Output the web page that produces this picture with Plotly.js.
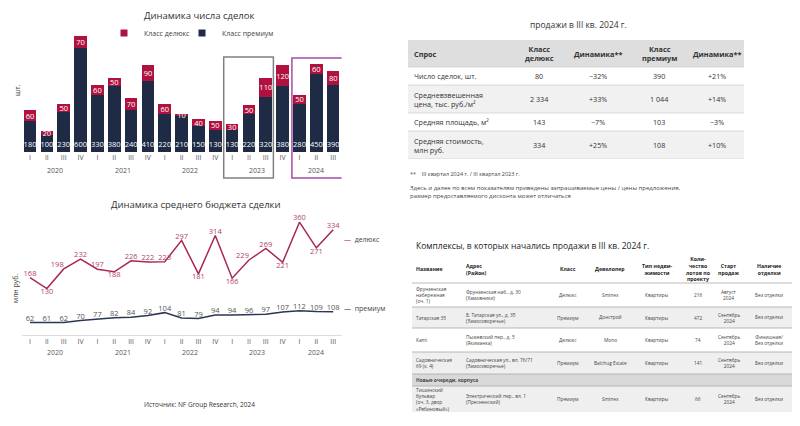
<!DOCTYPE html>
<html><head><meta charset="utf-8">
<script src="https://cdn.plot.ly/plotly-3.0.1.min.js"></script>
<style>html,body{margin:0;padding:0;background:#fff}</style>
</head><body><div id="chart" style="width:800px;height:426px"></div>
<script>
// ---------- data ----------
const quarters = ["I","II","III","IV","I","II","III","IV","I","II","III","IV","I","II","III","IV","I","II","III"];
const years = ["2020","2021","2022","2023","2024"];
const quartersPerYear = [4,4,4,4,3];
const dealsPremium = [180,100,230,600,330,380,240,410,220,210,150,130,130,220,320,380,280,450,390];
const dealsDeluxe  = [60,20,50,70,60,50,70,90,60,10,40,50,30,50,110,120,50,60,80];
const budgetDeluxe  = [168,130,198,232,197,188,226,222,223,297,181,314,166,229,269,221,360,271,334];
const budgetPremium = [62,61,62,70,77,82,84,92,104,81,79,94,94,96,97,107,112,109,108];

const t1Header = ["Спрос","Класс<br>делюкс","Динамика**","Класс<br>премиум","Динамика**"];
const t1Metric = ["Число сделок, шт.","Средневзвешенная<br>цена, тыс. руб./м²","Средняя площадь, м²","Средняя стоимость,<br>млн руб."];
const t1DeluxeVal = ["80","2 334","143","334"];
const t1DeluxeDyn = ["−32%","+33%","−7%","+25%"];
const t1PremVal = ["390","1 044","103","108"];
const t1PremDyn = ["+21%","+14%","−3%","+10%"];

const t2Header = ["Название","Адрес<br>(Район)","Класс","Девелопер","Тип недви-<br>жимости","Коли-<br>чество<br>лотов по<br>проекту","Старт<br>продаж","Наличие<br>отделки"];
const t2Name = ["Фрунзенская<br>набережная<br>(оч. 1)","Татарская 35","Kami","Садовническая<br>69 (к. 4)","<b>Новые очереди, корпуса</b>","Тишинский<br>бульвар<br>(оч. 3, двор<br>«Рябиновый»)"];
const t2Address = ["Фрунзенская наб., д. 30<br>(Хамовники)","Б. Татарская ул., д. 35<br>(Замоскворечье)","Пыжевский пер., д. 5<br>(Якиманка)","Садовническая ул., вл. 76/71<br>(Замоскворечье)","","Электрический пер., вл. 1<br>(Пресненский)"];
const t2Class = ["Делюкс","Премиум","Делюкс","Премиум","","Премиум"];
const t2Developer = ["Sminex","Донстрой","Mono","Balchug Estate","","Sminex"];
const t2Type = ["Квартиры","Квартиры","Квартиры","Квартиры","","Квартиры"];
const t2Lots = ["216","472","74","141","","66"];
const t2Start = ["Август<br>2024","Сентябрь<br>2024","Сентябрь<br>2024","Сентябрь<br>2024","","Сентябрь<br>2024"];
const t2Finish = ["Без отделки","Без отделки","Финишная/<br>Без отделки","Без отделки","","Без отделки"];

// ---------- styles ----------
const FONT = "Open Sans, Noto Sans, sans-serif";
const RED = "#b01240", NAVY = "#1f2a44";
const LRED = "#a8284f", LRED_TXT = "#b24268", LNAVY = "#2b3653";
const W = 800, H = 426;
const px = p => p / W, py = p => 1 - p / H;

const xIdx = quarters.map((_, i) => i);
let yearCenters = [], s = 0;
quartersPerYear.forEach(n => { yearCenters.push(s + (n - 1) / 2); s += n; });

const deluxePos = ["top center","bottom center","top left","top center","top center","bottom center","top center","top center","top center","top center","bottom center","top center","bottom center","top left","top center","bottom center","top center","bottom center","top center"];

const traces = [
  {type:"scatter", mode:"markers", x:[null], y:[null], name:"Класс делюкс", legend:"legend", marker:{symbol:"square", size:7, color:RED}, hoverinfo:"skip"},
  {type:"scatter", mode:"markers", x:[null], y:[null], name:"Класс премиум", legend:"legend2", marker:{symbol:"square", size:7, color:NAVY}, hoverinfo:"skip"},
  {type:"bar", x:xIdx, y:dealsPremium, name:"Класс премиум", marker:{color:NAVY}, showlegend:false,
   text:dealsPremium.map(String), textposition:"inside", insidetextanchor:"start", textangle:0, constraintext:"none",
   insidetextfont:{color:"#fff", size:7.5, family:FONT}, hoverinfo:"skip"},
  {type:"bar", x:xIdx, y:dealsDeluxe, name:"Класс делюкс", marker:{color:RED}, showlegend:false,
   text:dealsDeluxe.map(String), textposition:"inside", insidetextanchor:"middle", textangle:0, constraintext:"none",
   insidetextfont:{color:"#fff", size:7.5, family:FONT}, hoverinfo:"skip"},
  {type:"scatter", mode:"lines+text", x:xIdx, y:budgetDeluxe, xaxis:"x2", yaxis:"y2", name:"делюкс", showlegend:false,
   line:{color:LRED, width:1.5}, text:budgetDeluxe.map(String), textposition:deluxePos,
   textfont:{size:7.5, color:LRED_TXT, family:FONT}, cliponaxis:false, hoverinfo:"skip"},
  {type:"scatter", mode:"lines+text", x:xIdx, y:budgetPremium, xaxis:"x2", yaxis:"y3", name:"премиум", showlegend:false,
   line:{color:LNAVY, width:1.5}, text:budgetPremium.map(String), textposition:"top center",
   textfont:{size:7.5, color:"#555", family:FONT}, cliponaxis:false, hoverinfo:"skip"}
];

// ---------- annotations & shapes ----------
const ann = [];
const shapes = [];
const txt = (text, x, y, opt = {}) => Object.assign({text, x, y, xref:"paper", yref:"paper", showarrow:false,
  xanchor:"center", yanchor:"middle", font:{family:FONT, size:7, color:"#444"}}, opt);

ann.push(txt("Динамика числа сделок", px(199), py(16), {font:{family:FONT, size:9.5, color:"#333"}}));
ann.push(txt("Динамика среднего бюджета сделки", px(196), py(205), {font:{family:FONT, size:9.5, color:"#333"}}));
ann.push(txt("шт.", px(18), py(90), {textangle:-90, font:{family:FONT, size:7, color:"#444"}}));
ann.push(txt("млн руб.", px(15), py(289), {textangle:-90, font:{family:FONT, size:7, color:"#444"}}));
years.forEach((yr, i) => {
  ann.push(txt(yr, yearCenters[i], py(170), {xref:"x", font:{family:FONT, size:7, color:"#555"}}));
  ann.push(txt(yr, yearCenters[i], py(352), {xref:"x2", font:{family:FONT, size:7, color:"#555"}}));
});
ann.push(txt("<span style='color:" + LRED + "'>—</span>  делюкс", px(342), py(239), {xanchor:"left", font:{family:FONT, size:7, color:"#444"}}));
ann.push(txt("<span style='color:" + LNAVY + "'>—</span>  премиум", px(342), py(308), {xanchor:"left", font:{family:FONT, size:7, color:"#444"}}));
ann.push(txt("Источник: NF Group Research, 2024", px(199), py(404), {font:{family:FONT, size:6.5, color:"#333"}}));
ann.push(txt("продажи в III кв. 2024 г.", px(578), py(24), {font:{family:FONT, size:8.5, color:"#333"}}));
ann.push(txt("**    III квартал 2024 г. / III квартал 2023 г.", px(408), py(174), {xanchor:"left", font:{family:FONT, size:5.5, color:"#444"}}));
ann.push(txt("Здесь и далее по всем показателям приведены запрашиваемые цены / цены предложения,<br>размер предоставляемого дисконта может отличаться", px(408), py(192), {xanchor:"left", align:"left", font:{family:FONT, size:6, color:"#444"}}));
ann.push(txt("Комплексы, в которых начались продажи в III кв. 2024 г.", px(414), py(245), {xanchor:"left", font:{family:FONT, size:8.5, color:"#222"}}));

shapes.push(
  {type:"rect", xref:"x", yref:"paper", x0:12 - 0.5, x1:14 + 0.45, y0:py(178), y1:py(57), line:{color:"#808080", width:1.5}},
  {type:"rect", xref:"x", yref:"paper", x0:16 - 0.45, x1:18 + 0.65, y0:py(178), y1:py(58), line:{color:"#a64ca6", width:1.5}}
);

const xCommon = {domain:[px(21.6), px(341.6)], range:[-0.5, 18.5], tickmode:"array", tickvals:xIdx, ticktext:quarters,
  showgrid:false, zeroline:false, ticks:"", tickfont:{family:FONT, size:7, color:"#555"}, fixedrange:true};

const layout = {
  width:W, height:H, margin:{l:0, r:0, t:0, b:0}, paper_bgcolor:"#fff", plot_bgcolor:"rgba(0,0,0,0)",
  font:{family:FONT, size:7, color:"#444"},
  barmode:"stack", bargap:0.25,
  showlegend:true,
  legend:{orientation:"h", x:px(104), xanchor:"left", y:py(33), yanchor:"middle", font:{family:FONT, size:7, color:"#444"},
    bgcolor:"rgba(0,0,0,0)", itemwidth:30, traceorder:"normal"},
  legend2:{orientation:"h", x:px(182), xanchor:"left", y:py(33), yanchor:"middle", font:{family:FONT, size:7, color:"#444"},
    bgcolor:"rgba(0,0,0,0)", itemwidth:30, traceorder:"normal"},
  xaxis:Object.assign({}, xCommon, {anchor:"y", showline:false}),
  yaxis:{domain:[py(152), py(30)], range:[0, 705], visible:false, fixedrange:true},
  xaxis2:Object.assign({}, xCommon, {anchor:"y2", showline:true, linecolor:"#dddddd", linewidth:1}),
  yaxis2:{domain:[py(335), py(215)], range:[-31, 385], visible:false, fixedrange:true},
  yaxis3:{overlaying:"y2", anchor:"x2", range:[8.5, 521], visible:false, fixedrange:true},
  annotations:ann, shapes:shapes
};

// ---------- tables drawn on their own hidden axes ----------
function addTable(t) {
  const totalW = t.colWidths.reduce((a, b) => a + b, 0);
  const totalH = t.rowHeights.reduce((a, b) => a + b, 0);
  layout["xaxis" + t.xn] = {domain:[px(t.left), px(t.left + totalW)], range:[0, totalW], visible:false, anchor:"y" + t.yn, fixedrange:true};
  layout["yaxis" + t.yn] = {domain:[py(t.top + totalH), py(t.top)], range:[totalH, 0], visible:false, anchor:"x" + t.xn, fixedrange:true};
  const xr = "x" + t.xn, yr = "y" + t.yn;
  traces.push({type:"scatter", mode:"markers", x:[null], y:[null], xaxis:xr, yaxis:yr, showlegend:false, hoverinfo:"skip"});
  const rows = [t.header].concat(t.columns[0].map((_, r) => t.columns.map(col => col[r])));
  let y = 0;
  rows.forEach((row, r) => {
    const h = t.rowHeights[r];
    shapes.push({type:"rect", xref:xr, yref:yr, x0:0, x1:totalW, y0:y, y1:y + h, fillcolor:t.fills[r], line:{width:0}, layer:"below"});
    if (r > 0 && t.lineColor) shapes.push({type:"line", xref:xr, yref:yr, x0:0, x1:totalW, y0:y, y1:y, line:{color:t.lineColor, width:0.8}});
    let x = 0;
    row.forEach((cell, c) => {
      const w = t.colWidths[c];
      const left = t.aligns[c] === "left";
      if (cell) ann.push({text:(r === 0 ? "<b>" + cell + "</b>" : cell), xref:xr, yref:yr, x:left ? x + t.pad : x + w / 2, y:y + h / 2,
        xanchor:left ? "left" : "center", yanchor:"middle", align:left ? "left" : "center", showarrow:false, borderpad:0,
        font:r === 0 ? t.headerFont : t.bodyFont});
      x += w;
    });
    y += h;
  });
  if (t.bottomLine) shapes.push({type:"line", xref:xr, yref:yr, x0:0, x1:totalW, y0:totalH, y1:totalH, line:{color:t.lineColor, width:0.8}});
}

addTable({
  xn:3, yn:4, left:408, top:40, pad:5,
  colWidths:[102,58,60,62,54], rowHeights:[27,18,28,18,28],
  header:t1Header, columns:[t1Metric, t1DeluxeVal, t1DeluxeDyn, t1PremVal, t1PremDyn],
  aligns:["left","center","center","center","center"],
  fills:["#dedede","#ffffff","#f1f1f1","#ffffff","#f1f1f1"], lineColor:"#d2d2d2", bottomLine:true,
  headerFont:{family:FONT, size:7.3, color:"#333"}, bodyFont:{family:FONT, size:7.2, color:"#333"}
});

addTable({
  xn:4, yn:5, left:412, top:255, pad:3,
  colWidths:[50,84,44,40,54,27,35,46], rowHeights:[28,24,21,24,22,12,26],
  header:t2Header, columns:[t2Name, t2Address, t2Class, t2Developer, t2Type, t2Lots, t2Start, t2Finish],
  aligns:["left","left","center","center","center","center","center","center"],
  fills:["#ffffff","#ffffff","#efefef","#ffffff","#efefef","#d9d9d9","#efefef"], lineColor:"#a8a8a8", bottomLine:false,
  headerFont:{family:FONT, size:5.2, color:"#222"}, bodyFont:{family:FONT, size:4.8, color:"#444"}
});

Plotly.newPlot("chart", traces, layout, {displayModeBar:false, staticPlot:true});
</script></body></html>
